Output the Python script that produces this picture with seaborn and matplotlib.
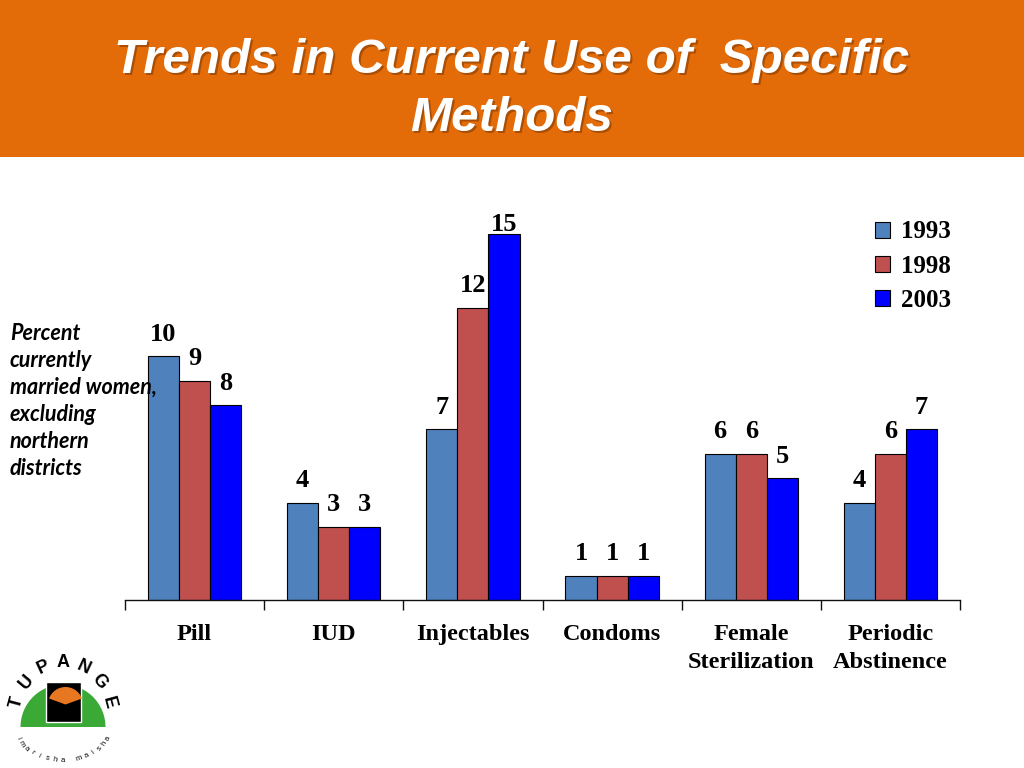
import matplotlib
matplotlib.use("Agg")
import matplotlib.pyplot as plt
import seaborn as sns
import pandas as pd
import numpy as np
from matplotlib.patches import Rectangle, Wedge
from matplotlib.ticker import FixedLocator

categories = ["Pill", "IUD", "Injectables", "Condoms", "Female\nSterilization", "Periodic\nAbstinence"]
years = ["1993", "1998", "2003"]
v1993 = [10, 4, 7, 1, 6, 4]
v1998 = [9, 3, 12, 1, 6, 6]
v2003 = [8, 3, 15, 1, 5, 7]
colors = ["#4F81BD", "#C0504D", "#0000FF"]

rows = []
for yr, vals in zip(years, [v1993, v1998, v2003]):
    for c, v in zip(categories, vals):
        rows.append({"method": c, "year": yr, "value": v})
df = pd.DataFrame(rows)

sns.set_theme(style="white")
plt.rcParams['font.family'] = ['Liberation Serif', 'DejaVu Serif']
plt.rcParams['text.color'] = 'black'
plt.rcParams['xtick.color'] = 'black'
plt.rcParams['axes.labelcolor'] = 'black'

W, H = 1024, 768
fig = plt.figure(figsize=(W / 100, H / 100), dpi=100)

# header band
fig.patches.append(Rectangle((0, 1 - 157 / H), 1, 157 / H, transform=fig.transFigure,
                             facecolor="#E36C09", edgecolor="none", zorder=0))
for dx, dy, col, al in [(2, -2, "#7A3600", 0.55), (0, 0, "white", 1.0)]:
    for txt, base in [("Trends in Current Use of  Specific", 73), ("Methods", 131)]:
        fig.text(0.5 + dx / W, 1 - base / H + dy / H, txt,
                 ha="center", va="baseline", fontsize=35.6, color=col, fontweight="bold",
                 fontstyle="italic", family="Liberation Sans", alpha=al)

ax = fig.add_axes([125 / W, 1 - 600 / H, (960 - 125) / W, (600 - 210) / H])
sns.barplot(data=df, x="method", y="value", hue="year", palette=colors, width=0.67,
            saturation=1, edgecolor="black", linewidth=0.8, ax=ax, legend=True)
ymax = 16
ax.set_ylim(0, ymax)
ax.set_xlim(-0.5, len(categories) - 0.5)

for cont in ax.containers:
    for bar in cont:
        h = bar.get_height()
        pad = 7.5 if h + 1.5 < ymax else -1
        ax.annotate(f"{h:g}", (bar.get_x() + bar.get_width() / 2, h), xytext=(0, pad),
                    textcoords="offset points", ha="center", va="bottom", fontsize=19,
                    fontweight="bold", family="Liberation Serif", color="black",
                    annotation_clip=False)

for s in ["top", "right", "left"]:
    ax.spines[s].set_visible(False)
ax.spines["bottom"].set_color("#111111")
ax.spines["bottom"].set_linewidth(1.0)
ax.set_yticks([])
ax.set_xlabel("")
ax.set_ylabel("")
ax.xaxis.set_minor_locator(FixedLocator(np.arange(-0.5, len(categories), 1.0)))
ax.tick_params(axis="x", which="major", length=0, pad=17, labelsize=17.5, labelcolor="black")
ax.tick_params(axis="x", which="minor", length=7, width=1, color="#111111", direction="out", bottom=True)
for lab in ax.get_xticklabels():
    lab.set_fontweight("bold")
    lab.set_family("Liberation Serif")
    lab.set_linespacing(1.45)

handles, labels = ax.get_legend_handles_labels()
leg = ax.legend(handles, labels, loc="upper left", bbox_to_anchor=(852 / W, 1 - 198 / H),
                bbox_transform=fig.transFigure, frameon=False, handlelength=0.6,
                handleheight=0.6, handletextpad=0.45, labelspacing=0.45,
                prop={"family": "Liberation Serif", "weight": "bold", "size": 18})
for t in leg.get_texts():
    t.set_color("black")

# side note
note = ["Percent", "currently", "married women,", "excluding", "northern", "districts"]
for i, line in enumerate(note):
    fig.text(10 / W, 1 - (340 + i * 27) / H, line, ha="left", va="baseline", fontsize=15.5,
             fontweight="bold", fontstyle="italic", family="Lato", color="black")

# logo approximation
lax = fig.add_axes([8 / W, 1 - 762 / H, 110 / W, 125 / H])
lax.set_xlim(-1.1, 1.1)
lax.set_ylim(-1.25, 1.25)
lax.axis("off")
lax.add_patch(Wedge((0, -0.55), 0.85, 0, 180, facecolor="#3BA935", edgecolor="none"))
lax.add_patch(Rectangle((-0.35, -0.45), 0.7, 0.8, facecolor="black"))
lax.add_patch(Wedge((0.05, -0.1), 0.35, 20, 160, facecolor="#E87722", edgecolor="none"))
letters = "TUPANGE"
angs = np.linspace(165, 15, len(letters))
for ch, a in zip(letters, angs):
    r = 0.95
    lax.text(r * np.cos(np.radians(a)), -0.35 + r * 1.15 * np.sin(np.radians(a)), ch,
             ha="center", va="center", fontsize=13, fontweight="bold",
             family="Liberation Sans", rotation=a - 90, color="black")
sub = "imarisha maisha"
angs2 = np.linspace(200, 340, len(sub))
for ch, a in zip(sub, angs2):
    r = 0.95
    lax.text(r * np.cos(np.radians(a)), -0.55 + r * 0.7 * np.sin(np.radians(a)), ch,
             ha="center", va="center", fontsize=5.5, family="Liberation Sans",
             rotation=a + 90, color="black")

fig.savefig("out.png", dpi=100)
